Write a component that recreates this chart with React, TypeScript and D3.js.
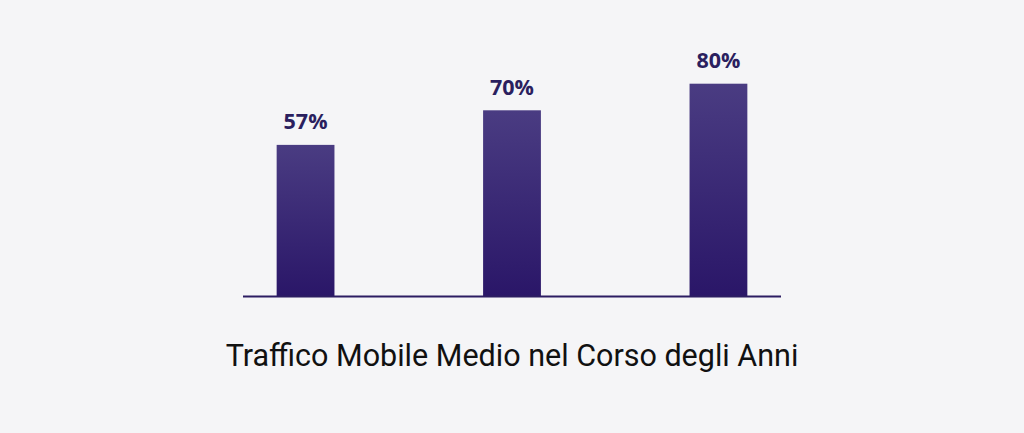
import { useRef, useEffect } from "react";
import * as d3 from "d3";

const categories = ["Anno 1", "Anno 2", "Anno 3"];
const values = [57, 70, 80];
const valueLabels = ["57%", "70%", "80%"];
const title = "Traffico Mobile Medio nel Corso degli Anni";

const WIDTH = 1024;
const HEIGHT = 433;

export default function App() {
  const svgRef = useRef<SVGSVGElement>(null);

  useEffect(() => {
    if (!svgRef.current) return;
    document.body.style.margin = "0";

    const svg = d3.select(svgRef.current);
    svg.selectAll("*").remove();
    svg.attr("width", WIDTH).attr("height", HEIGHT);

    // Background
    svg.append("rect").attr("width", WIDTH).attr("height", HEIGHT).attr("fill", "#f5f5f7");

    const defs = svg.append("defs");
    const grad = defs
      .append("linearGradient")
      .attr("id", "barGrad")
      .attr("x1", 0)
      .attr("y1", 0)
      .attr("x2", 0)
      .attr("y2", 1);
    grad.append("stop").attr("offset", "0%").attr("stop-color", "#4a3c82");
    grad.append("stop").attr("offset", "100%").attr("stop-color", "#2a1668");

    const x0 = 243;
    const x1 = 781;
    const baseY = 296.5;

    const x = d3
      .scaleBand()
      .domain(categories)
      .range([x0, x1])
      .paddingInner(0.72)
      .paddingOuter(0.163);

    const y = d3.scaleLinear().domain([0, 100]).range([baseY, 30.5]);

    const data = categories.map((c, i) => ({ category: c, value: values[i], label: valueLabels[i] }));

    // Bars
    svg
      .selectAll(".bar")
      .data(data)
      .enter()
      .append("rect")
      .attr("class", "bar")
      .attr("x", (d) => x(d.category) || 0)
      .attr("width", x.bandwidth())
      .attr("y", (d) => y(d.value))
      .attr("height", (d) => baseY - y(d.value))
      .attr("fill", "url(#barGrad)");

    // Baseline
    svg
      .append("line")
      .attr("x1", x0)
      .attr("x2", x1)
      .attr("y1", baseY)
      .attr("y2", baseY)
      .attr("stroke", "#2c1d62")
      .attr("stroke-width", 2);

    // Value labels
    svg
      .selectAll(".value")
      .data(data)
      .enter()
      .append("text")
      .attr("class", "value")
      .attr("x", (d) => (x(d.category) || 0) + x.bandwidth() / 2)
      .attr("y", (d) => y(d.value) - 15.5)
      .attr("text-anchor", "middle")
      .attr("fill", "#2b1f5f")
      .attr("font-family", "'Open Sans', sans-serif")
      .attr("font-size", "21.5px")
      .attr("font-weight", "700")
      .text((d) => d.label);

    // Title
    svg
      .append("text")
      .attr("x", 512)
      .attr("y", 366)
      .attr("text-anchor", "middle")
      .attr("fill", "#111111")
      .attr("font-family", "Roboto, sans-serif")
      .attr("font-size", "30.5px")
      .text(title);
  }, []);

  return <svg ref={svgRef} style={{ display: "block" }} />;
}
